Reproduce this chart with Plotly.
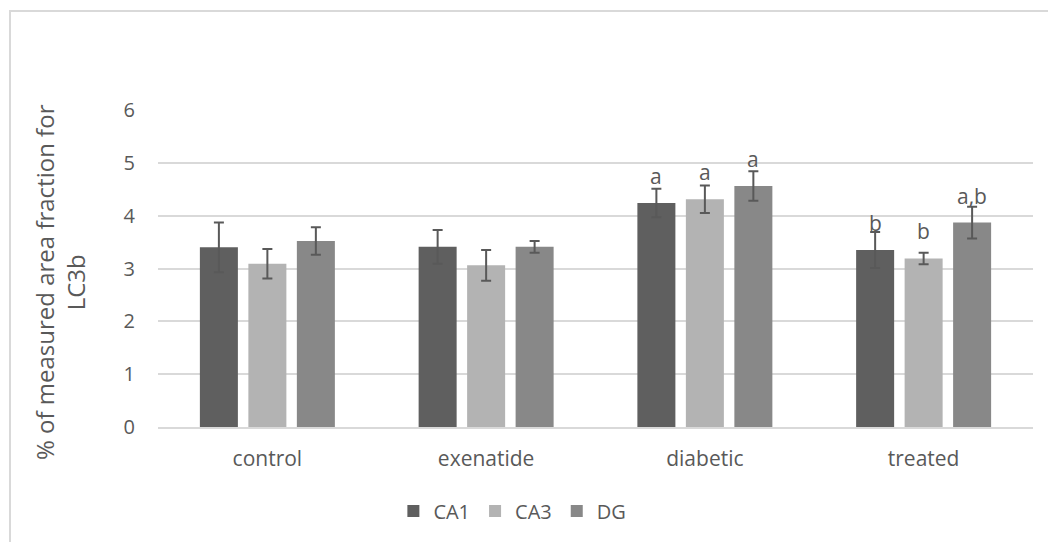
import plotly.graph_objects as go

# Groups and brain regions
groups = ["control", "exenatide", "diabetic", "treated"]
regions = ["CA1", "CA3", "DG"]

# Mean % area fraction for LC3b, per region
ca1_mean = [3.40, 3.41, 4.24, 3.35]
ca3_mean = [3.09, 3.06, 4.31, 3.19]
dg_mean = [3.52, 3.41, 4.56, 3.87]

# Error (± SD)
ca1_err = [0.47, 0.32, 0.27, 0.34]
ca3_err = [0.28, 0.29, 0.26, 0.11]
dg_err = [0.26, 0.11, 0.28, 0.30]

# Significance letters above each bar
ca1_sig = ["", "", "a", "b"]
ca3_sig = ["", "", "a", "b"]
dg_sig = ["", "", "a", "a,b"]

y_ticks = [0, 1, 2, 3, 4, 5, 6]

colors = {"CA1": "#5f5f5f", "CA3": "#b3b3b3", "DG": "#888888"}
means = {"CA1": ca1_mean, "CA3": ca3_mean, "DG": dg_mean}
errs = {"CA1": ca1_err, "CA3": ca3_err, "DG": dg_err}
sigs = {"CA1": ca1_sig, "CA3": ca3_sig, "DG": dg_sig}

W, H = 1048, 542
ML, MR, MT, MB = 158, 15, 110, 115
BARGAP = 0.335
FONT = "Open Sans"
TXT = "#595959"

fig = go.Figure()
for r in regions:
    fig.add_trace(go.Bar(
        name=r, x=groups, y=means[r],
        marker=dict(color=colors[r], line=dict(width=0)),
        error_y=dict(type="data", array=errs[r], visible=True,
                     color="#595959", thickness=2, width=5),
    ))

# pixel offset of each bar centre inside its group
plot_w = W - ML - MR
cat_w = plot_w / len(groups)
slot = cat_w * (1 - BARGAP) / len(regions)
annotations = []
for i, r in enumerate(regions):
    dx = (i - (len(regions) - 1) / 2) * slot
    for g, v, s in zip(groups, means[r], sigs[r]):
        if s:
            annotations.append(dict(
                x=g, y=v, xref="x", yref="y", text=s, showarrow=False,
                xshift=dx, yshift=11, yanchor="bottom", xanchor="center",
                font=dict(family=FONT, size=21, color=TXT),
            ))

# axis title as two rotated lines
plot_h = H - MT - MB
def px_x(p):
    return (p - ML) / plot_w
def px_y(p):
    return (H - MB - p) / plot_h

annotations.append(dict(
    x=px_x(60), y=px_y(282), xref="paper", yref="paper",
    text="% of measured area fraction for<br>LC3b", textangle=-90,
    showarrow=False, xanchor="center", yanchor="middle",
    font=dict(family=FONT, size=24, color=TXT),
))

fig.update_layout(
    width=W, height=H,
    margin=dict(l=ML, r=MR, t=MT, b=MB),
    paper_bgcolor="white", plot_bgcolor="white",
    barmode="group", bargap=BARGAP, bargroupgap=0.216,
    font=dict(family=FONT, size=20, color=TXT),
    showlegend=True,
    legend=dict(orientation="h", x=0.405, xanchor="center", y=px_y(511),
                yanchor="middle", font=dict(family=FONT, size=20, color=TXT),
                itemwidth=30, traceorder="normal"),
    xaxis=dict(showgrid=False, showline=True, linecolor="#d9d9d9", linewidth=2,
               ticks="", ticklabelstandoff=12,
               tickfont=dict(family=FONT, size=21, color=TXT)),
    yaxis=dict(range=[0, 6], tickvals=y_ticks, showgrid=True,
               gridcolor="#d9d9d9", gridwidth=2, zeroline=False,
               showline=False, ticks="", ticklabelstandoff=22,
               tickfont=dict(family=FONT, size=20, color=TXT)),
    annotations=annotations,
    shapes=[dict(type="rect", xref="paper", yref="paper",
                 x0=px_x(10), y0=px_y(560), x1=px_x(1060), y1=px_y(11),
                 line=dict(color="#d9d9d9", width=2), layer="below")],
)

fig.write_html("out.html")
